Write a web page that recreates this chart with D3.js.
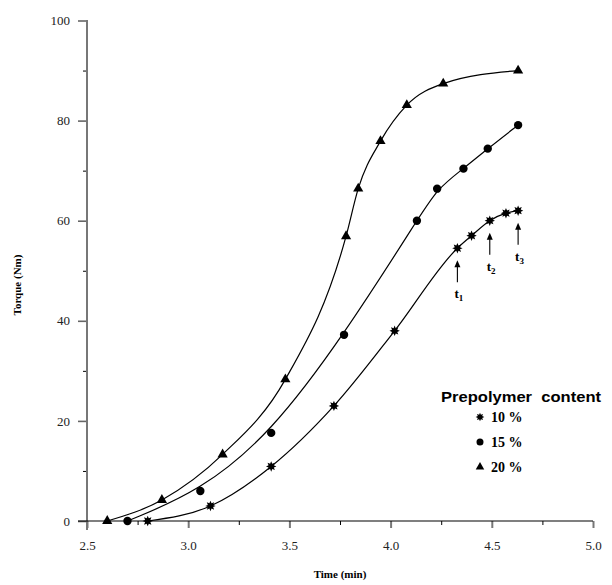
<!DOCTYPE html>
<html>
<head>
<meta charset="utf-8">
<script src="https://cdn.jsdelivr.net/npm/d3@7"></script>
<style>
  body { margin: 0; background: #fff; }
  svg { display: block; }
</style>
</head>
<body>
<svg id="chart" width="612" height="585"></svg>
<script>
// data
var time10 = [2.80, 3.11, 3.41, 3.72, 4.02, 4.33, 4.40, 4.49, 4.57, 4.63];
var torque10 = [0, 3.0, 10.9, 23.0, 38.0, 54.5, 57.0, 60.0, 61.5, 62.0];
var time15 = [2.70, 3.06, 3.41, 3.77, 4.13, 4.23, 4.36, 4.48, 4.63];
var torque15 = [0, 6.0, 17.6, 37.2, 60.0, 66.4, 70.4, 74.4, 79.1];
var time20 = [2.60, 2.87, 3.17, 3.48, 3.78, 3.84, 3.95, 4.08, 4.26, 4.63];
var torque20 = [0, 4.2, 13.3, 28.3, 56.9, 66.4, 75.9, 83.1, 87.4, 90.0];
var seriesNames = ['10 %', '15 %', '20 %'];
var xTicks = [2.5, 3.0, 3.5, 4.0, 4.5, 5.0];
var xMinor = [2.75, 3.25, 3.75, 4.25, 4.75];
var yTicks = [0, 20, 40, 60, 80, 100];
var yMinor = [10, 30, 50, 70, 90];
var markTimes = [4.33, 4.49, 4.63];
var markTorque = [54.5, 60.0, 62.0];
var markNames = ['1', '2', '3'];

var serif = '"Liberation Serif", "Times New Roman", serif';
var svg = d3.select('#chart');
var x = d3.scaleLinear().domain([2.5, 5.0]).range([87, 593]);
var y = d3.scaleLinear().domain([0, 100]).range([521, 20.5]);

// custom 8 point burst used for the 10 % series
var burst = {
  draw: function(ctx, size) {
    var ro = Math.sqrt(size) * 0.62, ri = ro * 0.55;
    for (var i = 0; i < 16; i++) {
      var r = i % 2 ? ri : ro;
      var a = i * Math.PI / 8;
      if (i === 0) ctx.moveTo(r * Math.sin(a), -r * Math.cos(a));
      else ctx.lineTo(r * Math.sin(a), -r * Math.cos(a));
    }
    ctx.closePath();
  }
};
var symbols = [burst, d3.symbolCircle, d3.symbolTriangle];
var symSize = [70, 55, 45];
var series = [
  { xs: time10, ys: torque10, curve: d3.curveMonotoneX },
  { xs: time15, ys: torque15, curve: d3.curveBasis },
  { xs: time20, ys: torque20, curve: d3.curveMonotoneX }
];

// axes
var yMajor = d3.axisLeft(y).tickValues(yTicks).tickSize(9).tickPadding(8).tickFormat(d3.format('d'));
var yMin = d3.axisLeft(y).tickValues(yMinor).tickSize(4).tickFormat('');
var xMajor = d3.axisBottom(x).tickValues(xTicks).tickSize(7).tickPadding(13).tickFormat(d3.format('.1f'));
var xMin = d3.axisBottom(x).tickValues(xMinor).tickSize(4).tickFormat('');

var gy = svg.append('g').attr('transform', 'translate(87,0)').call(yMajor);
gy.selectAll('.tick line').attr('stroke', '#666').attr('stroke-width', 1.6);
svg.append('g').attr('transform', 'translate(87,0)').call(yMin);
var gx = svg.append('g').attr('transform', 'translate(0,521)').call(xMajor);
gx.selectAll('.tick line').attr('stroke', '#777').attr('stroke-width', 2);
svg.append('g').attr('transform', 'translate(0,521)').call(xMin);
svg.selectAll('.domain').remove();
svg.selectAll('.tick text').attr('font-family', serif).attr('font-size', 13).attr('fill', '#222');

svg.append('line').attr('x1', 87).attr('x2', 87).attr('y1', 20).attr('y2', 530)
  .attr('stroke', '#777').attr('stroke-width', 2);
svg.append('line').attr('x1', 78).attr('x2', 593).attr('y1', 521).attr('y2', 521)
  .attr('stroke', '#000').attr('stroke-width', 1.2);

// axis titles
svg.append('text').attr('x', 340).attr('y', 578).attr('text-anchor', 'middle')
  .attr('font-family', serif).attr('font-weight', 'bold').attr('font-size', 11)
  .text('Time (min)');
svg.append('text').attr('transform', 'translate(21,285) rotate(-90)').attr('text-anchor', 'middle')
  .attr('font-family', serif).attr('font-weight', 'bold').attr('font-size', 11)
  .text('Torque (Nm)');

// curves and markers
series.forEach(function(s, k) {
  var pts = s.xs.map(function(t, i) { return [t, s.ys[i]]; });
  var line = d3.line().x(function(d) { return x(d[0]); }).y(function(d) { return y(d[1]); }).curve(s.curve);
  svg.append('path').attr('d', line(pts)).attr('fill', 'none').attr('stroke', '#000').attr('stroke-width', 1.2);
  svg.selectAll('.m' + k).data(pts).enter().append('path').attr('class', 'm' + k)
    .attr('d', d3.symbol().type(symbols[k]).size(symSize[k]))
    .attr('transform', function(d) { return 'translate(' + x(d[0]) + ',' + y(d[1]) + ')'; })
    .attr('fill', '#000');
});

// t1..t3 arrows
var ann = svg.append('g');
markTimes.forEach(function(t, i) {
  var px = x(t), py = y(markTorque[i]) + 12;
  ann.append('line').attr('x1', px).attr('x2', px).attr('y1', py + 4).attr('y2', py + 22)
    .attr('stroke', '#000').attr('stroke-width', 1.1);
  ann.append('path').attr('d', 'M' + px + ',' + py + 'l-3,7h6z').attr('fill', '#000');
  var tx = ann.append('text').attr('x', px - 3).attr('y', py + 38)
    .attr('font-family', serif).attr('font-weight', 'bold').attr('font-size', 13);
  tx.append('tspan').text('t');
  tx.append('tspan').attr('dy', 3).attr('font-size', 9).text(markNames[i]);
});

// legend
var lg = svg.append('g');
lg.append('text').attr('x', 441).attr('y', 402).attr('textLength', 160).attr('lengthAdjust', 'spacingAndGlyphs')
  .style('white-space', 'pre')
  .attr('font-family', '"Liberation Sans", Arial, sans-serif').attr('font-weight', 'bold').attr('font-size', 15.5)
  .text('Prepolymer  content');
seriesNames.forEach(function(n, k) {
  var cy = 417 + k * 25;
  lg.append('path').attr('d', d3.symbol().type(symbols[k]).size(symSize[k] * 0.7))
    .attr('transform', 'translate(480,' + cy + ')').attr('fill', '#000');
  lg.append('text').attr('x', 491).attr('y', cy + 5)
    .attr('font-family', serif).attr('font-weight', 'bold').attr('font-size', 14)
    .text(n);
});
</script>
</body>
</html>
